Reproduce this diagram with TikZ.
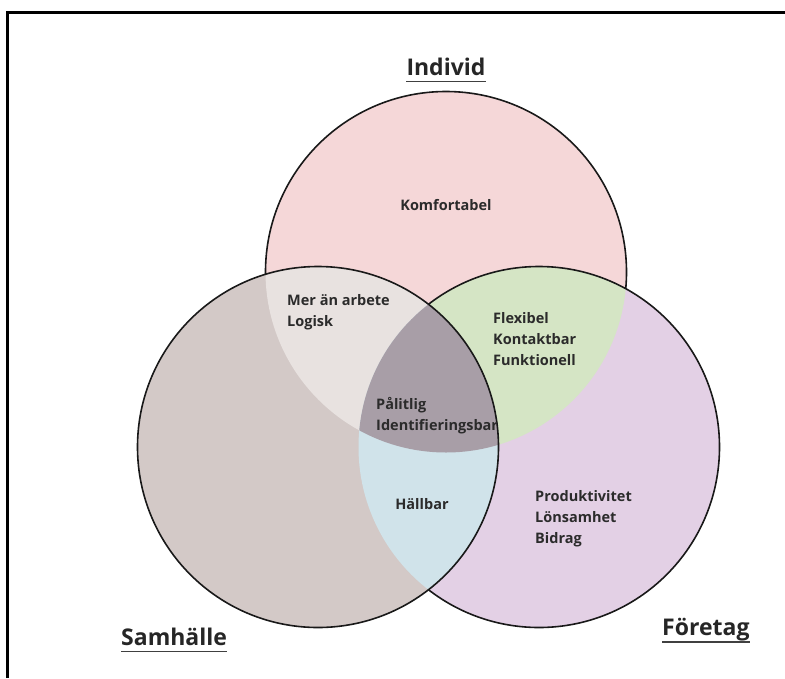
\documentclass[tikz,border=0pt]{standalone}
\usepackage{fontspec}
\setmainfont{Open Sans}
\definecolor{cpink}{HTML}{F5D7D8}
\definecolor{cgray}{HTML}{D3C9C7}
\definecolor{clav}{HTML}{E3D0E5}
\definecolor{clight}{HTML}{E8E2E0}
\definecolor{cgreen}{HTML}{D5E5C5}
\definecolor{cblue}{HTML}{D0E3EA}
\definecolor{ccenter}{HTML}{A89EA7}
\definecolor{ctext}{HTML}{2B2B2B}
\tikzset{
  ring/.style={draw=black!90, line width=1.6pt},
  lbl/.style={inner sep=0pt, text=ctext, font=\bfseries\fontsize{14.5}{21}\selectfont, align=left},
  ttl/.style={inner sep=0pt, text=black!85, font=\bfseries\fontsize{23}{26}\selectfont},
  uline/.style={draw=black!75, line width=1.6pt},
  frame/.style={draw=black, line width=2.5pt}
}
\begin{document}
\begin{tikzpicture}[x=1pt,y=-1pt]
\useasboundingbox (0,0) rectangle (785,678);
\fill[white] (0,0) rectangle (785,678);
\coordinate (f1) at (7.5,678);
\coordinate (f2) at (7.5,12.5);
\coordinate (f3) at (785,12.5);
\draw[frame] (f1) -- (f2) -- (f3);
% centres
\coordinate (T) at (446,272);
\coordinate (L) at (318,447);
\coordinate (R) at (539,447);
\def\rad{180.5}
% top circle
\fill[cpink] (T) circle (\rad);
\draw[ring] (T) circle (\rad);
% right circle
\fill[clav] (R) circle (\rad);
\begin{scope}
  \clip (R) circle (\rad);
  \fill[cgreen] (T) circle (\rad);
\end{scope}
\draw[ring] (R) circle (\rad);
% left circle
\fill[cgray] (L) circle (\rad);
\begin{scope}
  \clip (L) circle (\rad);
  \fill[clight] (T) circle (\rad);
  \fill[cblue] (R) circle (\rad);
  \clip (R) circle (\rad);
  \fill[ccenter] (T) circle (\rad);
\end{scope}
\draw[ring] (L) circle (\rad);
% labels
\node[lbl] (komf) at (446,205) {Komfortabel};
\node[lbl, anchor=west] (mer) at (287,312) {Mer än arbete\\Logisk};
\node[lbl, anchor=west] (flex) at (493,339) {Flexibel\\Kontaktbar\\Funktionell};
\node[lbl, anchor=west] (pal) at (376,416) {Pålitlig\\Identifieringsbar};
\node[lbl] (hall) at (422,504) {Hällbar};
\node[lbl, anchor=west] (prod) at (535,519) {Produktivitet\\Lönsamhet\\Bidrag};
% titles
\node[ttl] (ind) at (446,67) {Individ};
\node[ttl, anchor=west] (sam) at (121,637) {Samhälle};
\node[ttl, anchor=west] (for) at (662,630) {Företag};
\draw[uline] ([yshift=-6pt]ind.base west) -- ([yshift=-6pt]ind.base east);
\draw[uline] ([yshift=-6pt]sam.base west) -- ([yshift=-6pt]sam.base east);
\draw[uline] ([yshift=-6pt]for.base west) -- ([yshift=-6pt]for.base east);
\end{tikzpicture}
\end{document}
